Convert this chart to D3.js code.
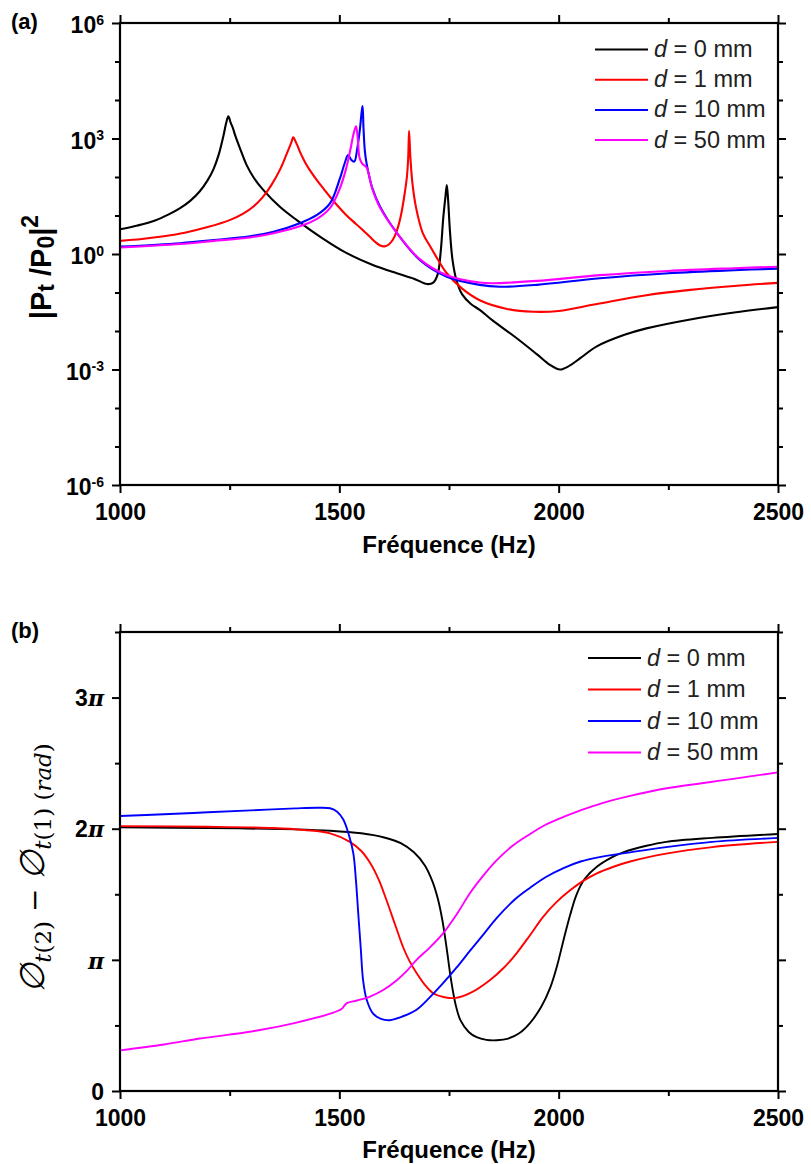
<!DOCTYPE html>
<html><head><meta charset="utf-8">
<script src="https://cdn.jsdelivr.net/npm/d3@7"></script>
<style>body{margin:0;background:#fff}svg{display:block}</style>
</head><body><svg id="c" width="811" height="1164"></svg>
<script>
// ---------- DATA ----------
const xTicksMajor = [1000, 1500, 2000, 2500];
const xTicksMinor = [1250, 1750, 2250];
const yAExponents = [-6, -3, 0, 3, 6];
const yAMinorExponents = [-5, -4, -2, -1, 1, 2, 4, 5];
const yBTicks = [0, 1, 2, 3];           // multiples of pi
const yBTickLabels = ["0", "π", "2π", "3π"];
const yBMinor = [0.5, 1.5, 2.5, 3.5];
const seriesNames = ["0", "1", "10", "50"];
const seriesColors = ["#000000", "#ff0000", "#0000ff", "#ff00ff"];

// Panel (a): |Pt/P0|^2
const fA0 = [1000,1040,1080,1110,1137,1160,1182,1200,1213,1225,1236,1242,1247,1252,1258,1262,1275,1289,1305,1327,1365,1403,1460,1517,1575,1631,1670,1700,1714,1724,1731,1737,1742,1745,1748,1752,1758,1767,1780,1800,1820,1850,1900,1950,1980,2003,2025,2050,2087,2150,2200,2300,2400,2500];
const tA0 = [4.37,5.5,7.41,10.5,15.5,24,42.7,83.2,158,380,1202,2512,3800,2630,1778,1259,501,200,95.5,45.7,16.6,7.59,2.63,1.05,0.525,0.316,0.229,0.166,0.18,0.29,1.12,8.91,31.6,61.7,25.1,4.17,0.708,0.209,0.0891,0.0501,0.0355,0.0186,0.00708,0.00251,0.00132,0.001,0.00126,0.002,0.00398,0.00794,0.0117,0.02,0.0302,0.0417];
const fA1 = [1000,1050,1100,1150,1200,1250,1280,1305,1325,1345,1365,1380,1390,1395,1400,1405,1410,1418,1425,1435,1450,1465,1479,1497,1515,1530,1547,1560,1572,1583,1593,1603,1612,1622,1631,1640,1648,1654,1657,1659,1662,1667,1675,1690,1707,1725,1745,1780,1820,1880,1942,2000,2087,2200,2300,2400,2500];
const tA1 = [2.19,2.45,2.88,3.63,5.01,7.59,11,17.4,29.5,61.7,158,398,759,1072,851,631,457,295,209,138,79.4,47.9,30.2,17.4,10.5,7.24,4.9,3.55,2.63,2.0,1.66,1.58,1.74,2.34,3.98,9.55,31.6,100,316,1585,316,63.1,15.8,3.55,1.58,0.708,0.316,0.126,0.0631,0.038,0.0316,0.0331,0.0501,0.0851,0.117,0.148,0.178];
const fA10 = [1000,1137,1213,1296,1350,1410,1450,1479,1501,1512,1520,1527,1534,1541,1547,1551,1553,1555,1558,1562,1575,1593,1631,1684,1745,1820,1866,1950,2094,2250,2400,2500];
const tA10 = [1.55,1.91,2.29,2.88,3.8,6.31,10.5,20.9,89.1,224,372,282,251,562,1778,5012,6918,1995,501,229,52.5,17,3.55,0.692,0.257,0.158,0.141,0.158,0.234,0.316,0.38,0.417];
const fA50 = [1000,1137,1213,1296,1350,1410,1450,1479,1501,1515,1525,1532,1538,1542,1546,1552,1562,1575,1593,1631,1684,1745,1820,1850,1950,2094,2250,2400,2500];
const tA50 = [1.48,1.82,2.19,2.69,3.47,5.25,8.32,15.8,50.1,158,501,1259,2089,1000,316,224,178,50.1,15.8,3.55,0.724,0.282,0.182,0.174,0.2,0.282,0.363,0.427,0.468];

// Panel (b): phase difference, in units of pi rad
const fB0 = [1000,1200,1400,1479,1550,1600,1640,1670,1695,1712,1725,1735,1745,1755,1765,1776,1795,1813,1835,1859,1885,1910,1935,1960,1981,1996,2011,2026,2041,2060,2087,2120,2147,2200,2245,2350,2500];
const pB0 = [2.01,2.005,1.995,1.985,1.965,1.935,1.89,1.82,1.72,1.6,1.46,1.3,1.08,0.84,0.66,0.54,0.45,0.41,0.39,0.387,0.4,0.44,0.52,0.64,0.79,0.95,1.15,1.34,1.5,1.62,1.71,1.78,1.82,1.87,1.9,1.93,1.96];
const fB1 = [1000,1200,1350,1420,1479,1524,1550,1570,1590,1607,1627,1645,1660,1676,1695,1714,1740,1766,1800,1843,1875,1904,1935,1965,1995,2026,2055,2087,2125,2163,2245,2350,2500];
const pB1 = [2.02,2.015,2.005,1.99,1.965,1.9,1.83,1.74,1.61,1.46,1.27,1.1,0.99,0.9,0.81,0.745,0.715,0.71,0.75,0.845,0.94,1.05,1.19,1.33,1.44,1.53,1.6,1.66,1.71,1.75,1.81,1.86,1.9];
const fB10 = [1000,1100,1200,1300,1400,1450,1479,1495,1509,1522,1532,1538,1543,1549,1554,1562,1577,1595,1615,1645,1676,1705,1736,1767,1798,1830,1859,1900,1935,1970,2011,2050,2087,2163,2245,2350,2500];
const pB10 = [2.097,2.11,2.125,2.14,2.155,2.16,2.156,2.13,2.07,1.95,1.81,1.6,1.36,1.08,0.85,0.7,0.59,0.55,0.54,0.57,0.62,0.71,0.82,0.94,1.07,1.2,1.32,1.46,1.55,1.63,1.7,1.75,1.78,1.82,1.86,1.9,1.93];
const fB50 = [1000,1100,1182,1250,1319,1400,1479,1505,1517,1540,1570,1600,1631,1655,1676,1705,1736,1770,1798,1830,1859,1895,1935,1970,2011,2050,2094,2163,2250,2398,2500];
const pB50 = [0.31,0.355,0.4,0.43,0.465,0.52,0.59,0.625,0.67,0.69,0.72,0.77,0.845,0.92,1.0,1.09,1.2,1.36,1.51,1.65,1.76,1.87,1.96,2.03,2.09,2.14,2.19,2.25,2.31,2.38,2.43];

// ---------- DRAW ----------
const svg = d3.select('#c');
const SANS = "'Liberation Sans', Arial, sans-serif";
const L = 120, R = 778;
const x = d3.scaleLinear().domain([1000, 2500]).range([L, R]);
const curve = d3.curveCatmullRom.alpha(0.5);

function frame(g, y, top, bottom, yMajor, yMinor, yFmt) {
  g.append('g').attr('transform', `translate(0,${bottom})`)
    .call(d3.axisBottom(x).tickValues(xTicksMinor).tickSize(5).tickFormat(''));
  g.append('g').attr('transform', `translate(0,${top})`)
    .call(d3.axisTop(x).tickValues(xTicksMinor).tickSize(5).tickFormat(''));
  g.append('g').attr('transform', `translate(${L},0)`)
    .call(d3.axisLeft(y).tickValues(yMinor).tickSize(5).tickFormat(''));
  g.append('g').attr('transform', `translate(${R},0)`)
    .call(d3.axisRight(y).tickValues(yMinor).tickSize(5).tickFormat(''));
  const bx = g.append('g').attr('transform', `translate(0,${bottom})`)
    .call(d3.axisBottom(x).tickValues(xTicksMajor).tickSize(8).tickPadding(11).tickFormat(d3.format('d')));
  bx.selectAll('text').attr('font-family', SANS).attr('font-weight', 'bold').attr('font-size', 23).attr('fill', '#000');
  g.append('g').attr('transform', `translate(0,${top})`)
    .call(d3.axisTop(x).tickValues(xTicksMajor).tickSize(8).tickFormat(''));
  const ly = g.append('g').attr('transform', `translate(${L},0)`)
    .call(d3.axisLeft(y).tickValues(yMajor).tickSize(8).tickPadding(8));
  ly.selectAll('.tick text').each(function(d, i) { yFmt(d3.select(this), d, i); });
  g.append('g').attr('transform', `translate(${R},0)`)
    .call(d3.axisRight(y).tickValues(yMajor).tickSize(8).tickFormat(''));
  g.selectAll('.domain').remove();
  g.selectAll('.tick line').attr('stroke', '#000').attr('stroke-width', 2);
  g.append('rect').attr('x', L).attr('y', top).attr('width', R - L).attr('height', bottom - top)
    .attr('fill', 'none').attr('stroke', '#000').attr('stroke-width', 2.2);
}

function legend(g, x0, y0, dy, sw, fs) {
  seriesNames.forEach((n, i) => {
    const yy = y0 + i * dy;
    g.append('line').attr('x1', x0).attr('x2', x0 + 53).attr('y1', yy).attr('y2', yy)
      .attr('stroke', seriesColors[i]).attr('stroke-width', sw);
    const t = g.append('text').attr('x', x0 + 59).attr('y', yy + 7.5).attr('font-family', SANS)
      .attr('font-size', fs).attr('fill', '#222');
    t.append('tspan').attr('font-style', 'italic').text('d');
    t.append('tspan').text(` = ${n} mm`);
  });
}

// ---- Panel (a)
const topA = 23, botA = 485;
const yA = d3.scaleLog().domain([1e-6, 1e6]).range([botA, topA]);
const gA = svg.append('g');
svg.append('clipPath').attr('id', 'clipA').append('rect').attr('x', L).attr('y', topA).attr('width', R - L).attr('height', botA - topA);
const lineA = d3.line().x(d => x(d[0])).y(d => yA(d[1])).curve(curve);
[[fA0, tA0], [fA1, tA1], [fA10, tA10], [fA50, tA50]].forEach((s, i) => {
  gA.append('path').attr('clip-path', 'url(#clipA)').attr('d', lineA(d3.zip(s[0], s[1])))
    .attr('fill', 'none').attr('stroke', seriesColors[i]).attr('stroke-width', 2.1).attr('stroke-linejoin', 'round');
});
frame(gA, yA, topA, botA, yAExponents.map(e => Math.pow(10, e)), yAMinorExponents.map(e => Math.pow(10, e)),
  (t, d, i) => {
    t.text(null).attr('font-family', SANS).attr('font-weight', 'bold').attr('font-size', 23).attr('fill', '#000').attr('dy', '0.42em');
    t.append('tspan').text('10');
    t.append('tspan').attr('dy', '-0.6em').attr('font-size', 14).text(yAExponents[i]);
  });
legend(gA, 595, 49.5, 30.2, 2, 23.5);
gA.append('text').attr('x', 11).attr('y', 29).attr('font-family', SANS).attr('font-weight', 'bold').attr('font-size', 22).text('(a)');
gA.append('text').attr('x', (L + R) / 2).attr('y', 553).attr('text-anchor', 'middle').attr('font-family', SANS)
  .attr('font-weight', 'bold').attr('font-size', 24).text('Fréquence (Hz)');
const ylabA = gA.append('text').attr('transform', 'translate(51,267) rotate(-90)').attr('text-anchor', 'middle')
  .attr('font-family', SANS).attr('font-weight', 'bold').attr('font-size', 29);
ylabA.append('tspan').text('|P');
ylabA.append('tspan').attr('font-size', 23).attr('dy', 3).text('t');
ylabA.append('tspan').attr('dy', -3).text(' /P');
ylabA.append('tspan').attr('font-size', 23).attr('dy', 3).text('0');
ylabA.append('tspan').attr('dy', -3).text('|');
ylabA.append('tspan').attr('font-size', 23).attr('dy', -13).text('2');

// ---- Panel (b)
const topB = 632, botB = 1091;
const yB = d3.scaleLinear().domain([0, 3.5]).range([botB, topB]);
const gB = svg.append('g');
svg.append('clipPath').attr('id', 'clipB').append('rect').attr('x', L).attr('y', topB).attr('width', R - L).attr('height', botB - topB);
const lineB = d3.line().x(d => x(d[0])).y(d => yB(d[1])).curve(curve);
[[fB0, pB0], [fB1, pB1], [fB10, pB10], [fB50, pB50]].forEach((s, i) => {
  gB.append('path').attr('clip-path', 'url(#clipB)').attr('d', lineB(d3.zip(s[0], s[1])))
    .attr('fill', 'none').attr('stroke', seriesColors[i]).attr('stroke-width', 1.9);
});
frame(gB, yB, topB, botB, yBTicks, yBMinor, (t, d, i) => {
  const lab = yBTickLabels[i];
  t.text(null).attr('font-weight', 'bold').attr('font-size', 23).attr('fill', '#000').attr('dy', '0.36em');
  const digits = lab.replace('π', '');
  if (digits) t.append('tspan').attr('font-family', SANS).text(digits);
  if (lab.includes('π')) t.append('tspan').attr('font-family', "'DejaVu Serif', serif").attr('font-style', 'italic').attr('font-size', 22).text('π');
});
legend(gB, 588, 658, 31.5, 1.9, 23.5);
gB.append('text').attr('x', 11).attr('y', 638).attr('font-family', SANS).attr('font-weight', 'bold').attr('font-size', 22).text('(b)');
gB.append('text').attr('x', (L + R) / 2).attr('y', 1158).attr('text-anchor', 'middle').attr('font-family', SANS)
  .attr('font-weight', 'bold').attr('font-size', 24).text('Fréquence (Hz)');
const ylabB = gB.append('text').attr('transform', 'translate(44,868) rotate(-90)').attr('text-anchor', 'middle')
  .attr('font-family', "'DejaVu Serif', serif").attr('fill', '#000');
ylabB.append('tspan').attr('font-size', 34).attr('font-style', 'italic').text('∅');
ylabB.append('tspan').attr('font-size', 23).attr('font-style', 'italic').attr('dy', 7).text('t');
ylabB.append('tspan').attr('font-size', 23).text('(2)');
ylabB.append('tspan').attr('font-size', 28).attr('dy', -7).text(' − ');
ylabB.append('tspan').attr('font-size', 34).attr('font-style', 'italic').text('∅');
ylabB.append('tspan').attr('font-size', 23).attr('font-style', 'italic').attr('dy', 7).text('t');
ylabB.append('tspan').attr('font-size', 23).text('(1) (');
ylabB.append('tspan').attr('font-size', 23).attr('font-style', 'italic').text('rad');
ylabB.append('tspan').attr('font-size', 23).text(')');
</script></body></html>
